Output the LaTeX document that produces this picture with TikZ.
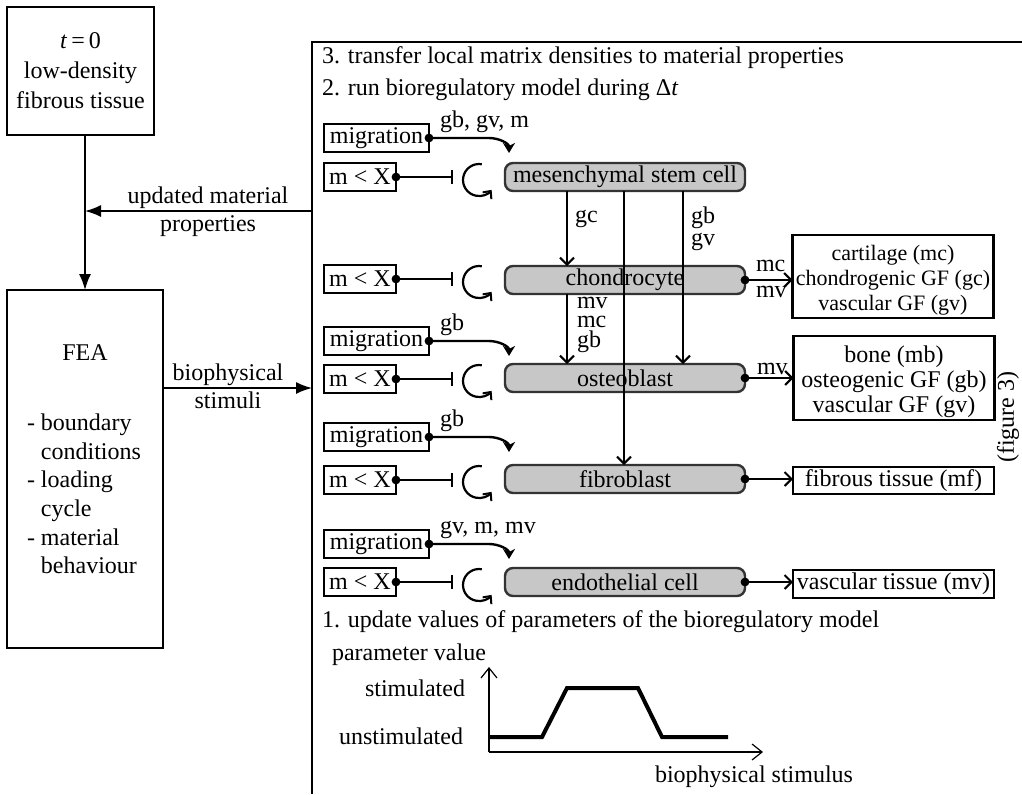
\documentclass[tikz,border=0pt]{standalone}
\usepackage{fontspec}
\setmainfont{Liberation Serif}
\usetikzlibrary{arrows.meta,calc}
\begin{document}
\begin{tikzpicture}[x=0.5pt,y=-0.5pt,
  every node/.style={inner sep=0pt, outer sep=0pt},
  font=\fontsize{12}{14}\selectfont,
  box/.style={draw, line width=0.8pt, align=center},
  rbox/.style={draw, line width=1.2pt, align=center, minimum width=100.5pt},
  cell/.style={draw=black!80, fill=black!22, line width=1.2pt, rounded corners=4pt, minimum width=120pt, minimum height=14pt},
  inbox/.style={draw, line width=1.2pt, minimum height=14pt},
  bigarrow/.style={-{Latex[length=8pt,width=6pt]}, line width=0.8pt},
  barb/.style={-{Straight Barb[length=3.5pt,width=7pt,line width=1pt]}, line width=1pt},
  migarrow/.style={-{Stealth[length=5pt,width=6pt,inset=1.5pt]}, line width=1.2pt},
  inh/.style={-{Bar[width=7pt,line width=1pt]}, line width=1pt},
  cyc/.style={-{Straight Barb[length=3pt,width=5.5pt,line width=1pt]}, line width=1.1pt},
  axis/.style={-{Straight Barb[length=5pt,width=8pt,line width=0.6pt]}, line width=0.6pt},
  lbl/.style={anchor=base west},
  stack/.style={anchor=north west, align=left, font=\fontsize{12}{9.8}\selectfont}
]
\useasboundingbox (0,0) rectangle (1022,794);

% ---------- left column ----------
\node[box, minimum width=73.5pt, minimum height=64pt, font=\fontsize{12}{15}\selectfont] (t0) at (80.5,71)
  {\textit{t}\,=\,0\\low-density\\fibrous tissue};
\node[box, minimum width=78pt, minimum height=179pt] (fea) at (85,469) {};
\node (featitle) at (85,353) {FEA};
\node[align=left, anchor=north west, font=\fontsize{12}{14.3}\selectfont] (fealist) at (27,414)
  {- boundary\\\phantom{- }conditions\\- loading\\\phantom{- }cycle\\- material\\\phantom{- }behaviour};

% big box (left and top border)
\coordinate (bbBL) at (312,794);
\coordinate (bbTL) at (312,42);
\coordinate (bbTR) at (1022,42);
\draw[line width=0.8pt] (bbBL) -- (bbTL) -- (bbTR);

\draw[bigarrow] (fea.north |- t0.south) -- (fea.north);
\coordinate (um) at (312,211);
\draw[bigarrow] (um) -- (fea.north |- um);
\node[align=center, font=\fontsize{12}{14}\selectfont] (umlbl) at (208,212) {updated material\\properties};

\coordinate (bs) at (312,388);
\draw[bigarrow] (fea.east |- bs) -- (bs);
\node[align=center, font=\fontsize{12}{14}\selectfont] (bslbl) at (228,386) {biophysical\\stimuli};

% ---------- headings ----------
\node[anchor=west] (h3) at (322,58) {3. transfer local matrix densities to material properties};
\node[anchor=west] (h2) at (322,90) {2. run bioregulatory model during Δ\textit{t}};

% ---------- cells ----------
\node[cell] (msc)  at (625,177) {mesenchymal stem cell};
\node[cell] (chon) at (625,280) {chondrocyte};
\node[cell] (ost)  at (625,378) {osteoblast};
\node[cell] (fib)  at (625,479) {fibroblast};
\node[cell] (endo) at (625,582) {endothelial cell};

% ---------- input boxes ----------
\node[inbox, minimum width=52.5pt] (mig1) at (376.5,138) {migration};
\node[inbox, minimum width=36pt]   (mx1)  at (360,177) {m < X};
\node[inbox, minimum width=36pt]   (mx2)  at (360,279) {m < X};
\node[inbox, minimum width=52.5pt] (mig3) at (376.5,341) {migration};
\node[inbox, minimum width=36pt]   (mx3)  at (360,379) {m < X};
\node[inbox, minimum width=52.5pt] (mig4) at (376.5,437) {migration};
\node[inbox, minimum width=36pt]   (mx4)  at (360,480) {m < X};
\node[inbox, minimum width=52.5pt] (mig5) at (376.5,544) {migration};
\node[inbox, minimum width=36pt]   (mx5)  at (360,582) {m < X};

% migration arrows
\foreach \m in {mig1, mig3, mig4, mig5}{
  \draw[migarrow] (\m.east) -- ++(60,0) to[out=0,in=90] ($(\m.east)+(80,15)$);
  \fill (\m.east) circle[radius=2.2pt];
}
\node[lbl] (l1) at (440,127) {gb, gv, m};
\node[lbl] (l3) at (440,330) {gb};
\node[lbl] (l4) at (440,426) {gb};
\node[lbl] (l5) at (440,533) {gv, m, mv};

% inhibitors and self-renewal cycles
\foreach \x/\yy in {mx1/180, mx2/282, mx3/381, mx4/482, mx5/585}{
  \draw[inh] (\x.east) -- ++(57,0);
  \fill (\x.east) circle[radius=2.2pt];
  \draw[cyc] (479,\yy) ++(-80:16) arc[start angle=-80, end angle=-322, radius=16];
}

% ---------- outputs ----------
\node[rbox, minimum height=41.5pt] (oc) at (893,276.5) {};
\node[align=center, font=\fontsize{11}{12.5}\selectfont] (octext) at (893,280)
  {cartilage (mc)\\chondrogenic GF (gc)\\vascular GF (gv)};
\node[rbox, minimum height=42pt] (oo) at (894,378) {};
\node[align=center, font=\fontsize{12}{12.5}\selectfont] (ootext) at (894,382)
  {bone (mb)\\osteogenic GF (gb)\\vascular GF (gv)};
\node[rbox, minimum height=13.5pt] (of) at (893.5,480.5) {fibrous tissue (mf)};
\node[rbox, minimum height=14pt] (ov) at (893.5,584) {vascular tissue (mv)};

\foreach \c/\o in {chon/oc, ost/oo, fib/of, endo/ov}{
  \draw[barb] (\c.east) -- (\o.west |- \c.east);
  \fill (\c.east) circle[radius=2.2pt];
}
\node[lbl] (lmc) at (756,271) {mc};
\node[lbl] (lmv) at (756,297) {mv};
\node[lbl] (lmv3) at (757,374) {mv};

\node[rotate=90] (fig3) at (1008,417) {(figure 3)};

% ---------- differentiation arrows ----------
\coordinate (xa) at (567,0);
\coordinate (xb) at (624,0);
\coordinate (xc) at (683,0);
\draw[barb] (msc.south -| xa) -- (chon.north -| xa);
\draw[barb] (msc.south -| xb) -- (fib.north -| xb);
\draw[barb] (msc.south -| xc) -- (ost.north -| xc);
\draw[barb] (chon.south -| xa) -- (ost.north -| xa);
\node[lbl] (lgc) at (575,222) {gc};
\node[stack, font=\fontsize{12}{11}\selectfont] (lgbgv) at (691,207) {gb\\gv};
\node[stack] (lmvmcgb) at (577,297) {mv\\mc\\gb};

% ---------- bottom graph ----------
\node[anchor=west] (h1) at (322,622) {1. update values of parameters of the bioregulatory model};
\node[anchor=west] (pv) at (332,655) {parameter value};
\coordinate (orig) at (489,752);
\coordinate (ytop) at (489,667);
\coordinate (xend) at (763,752);
\draw[axis] (orig) -- (ytop);
\draw[axis] (orig) -- (xend);
\draw[line width=2pt] (489,737) -- (542,737) -- (567,688) -- (638,688) -- (662,737) -- (728,737);
\node[anchor=east] (stim) at (465,688) {stimulated};
\node[anchor=east] (unstim) at (463,736) {unstimulated};
\node[anchor=west] (bps) at (655,777) {biophysical stimulus};
\end{tikzpicture}
\end{document}
